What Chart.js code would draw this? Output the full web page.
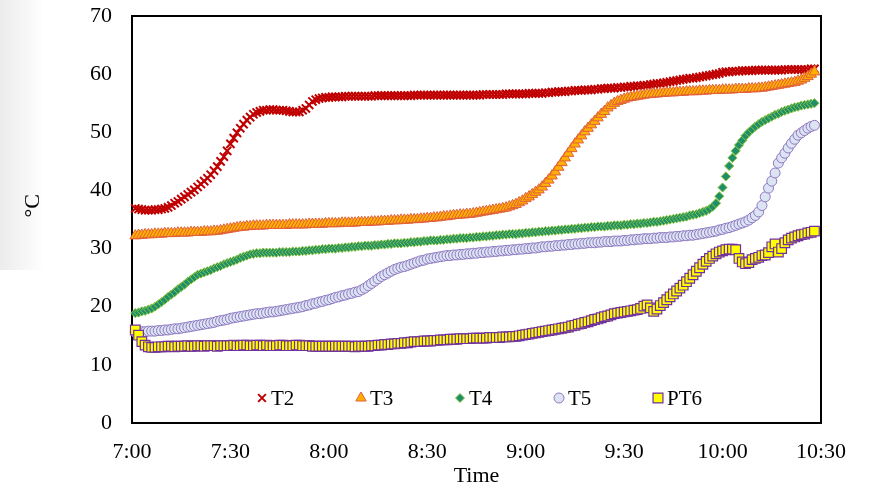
<!DOCTYPE html>
<html><head><meta charset="utf-8">
<script src="https://cdn.jsdelivr.net/npm/chart.js@4.4.1/dist/chart.umd.min.js"></script>
<style>
html,body{margin:0;padding:0;background:#fff;}
#wrap{position:relative;width:879px;height:489px;overflow:hidden;}
#shade{position:absolute;left:0;top:0;width:44px;height:270px;background:linear-gradient(to right, rgba(228,228,228,0.7), rgba(240,240,240,0.5) 65%, rgba(255,255,255,0));}
canvas{position:absolute;left:0;top:0;}
</style></head>
<body><div id="wrap"><div id="shade"></div><canvas id="c" width="879" height="489"></canvas></div>
<script>
// minutes after 7:00 of the first reading; readings every minute
const startMinute = 1;
const seriesNames = ['T2', 'T3', 'T4', 'T5', 'PT6'];
const timeTicks = ['7:00', '7:30', '8:00', '8:30', '9:00', '9:30', '10:00', '10:30'];
const yTicks = [0, 10, 20, 30, 40, 50, 60, 70];

const T2 = [
36.9,36.8,36.7,36.6,36.6,36.6,36.7,36.7,36.8,36.9,
37.1,37.4,37.8,38.1,38.5,38.9,39.3,39.7,40.1,40.6,
41.1,41.6,42.1,42.7,43.4,44.1,45.0,45.8,46.8,48.0,
49.0,49.9,50.7,51.4,52.1,52.6,53.1,53.4,53.6,53.8,
53.8,53.9,53.9,53.8,53.8,53.8,53.7,53.6,53.5,53.5,
53.5,53.8,54.1,54.7,55.3,55.6,55.8,55.9,56.0,56.0,
56.1,56.1,56.1,56.1,56.2,56.2,56.2,56.2,56.2,56.2,
56.2,56.2,56.2,56.3,56.3,56.3,56.3,56.3,56.3,56.3,
56.3,56.3,56.3,56.3,56.3,56.4,56.4,56.4,56.4,56.4,
56.4,56.4,56.4,56.4,56.4,56.4,56.4,56.4,56.4,56.4,
56.4,56.4,56.4,56.4,56.4,56.4,56.5,56.5,56.5,56.5,
56.5,56.5,56.5,56.6,56.6,56.6,56.6,56.6,56.6,56.6,
56.7,56.7,56.7,56.7,56.7,56.8,56.8,56.9,56.9,57.0,
57.0,57.0,57.1,57.1,57.2,57.2,57.2,57.3,57.3,57.3,
57.4,57.4,57.5,57.5,57.6,57.6,57.6,57.7,57.7,57.8,
57.8,57.9,57.9,58.0,58.0,58.1,58.1,58.2,58.3,58.4,
58.4,58.5,58.6,58.7,58.8,58.9,59.0,59.1,59.2,59.3,
59.3,59.4,59.5,59.6,59.7,59.8,59.9,60.0,60.1,60.3,
60.4,60.4,60.5,60.5,60.5,60.6,60.6,60.6,60.6,60.7,
60.7,60.7,60.7,60.7,60.7,60.7,60.7,60.7,60.8,60.8,
60.8,60.8,60.8,60.8,60.8,60.8,60.9,60.9
];

const T3 = [
32.2,32.3,32.3,32.4,32.4,32.4,32.5,32.5,32.5,32.6,
32.6,32.6,32.6,32.7,32.7,32.7,32.7,32.8,32.8,32.8,
32.8,32.9,32.9,32.9,33.0,33.0,33.1,33.2,33.3,33.4,
33.5,33.6,33.7,33.7,33.8,33.8,33.9,33.9,33.9,33.9,
34.0,34.0,34.0,34.0,34.0,34.0,34.0,34.1,34.1,34.1,
34.1,34.1,34.1,34.2,34.2,34.2,34.2,34.2,34.3,34.3,
34.3,34.3,34.3,34.4,34.4,34.4,34.4,34.4,34.5,34.5,
34.5,34.5,34.6,34.6,34.6,34.7,34.7,34.7,34.8,34.8,
34.8,34.9,34.9,34.9,35.0,35.0,35.0,35.1,35.1,35.2,
35.2,35.3,35.3,35.4,35.5,35.5,35.6,35.7,35.7,35.8,
35.8,35.9,35.9,36.0,36.1,36.2,36.3,36.4,36.5,36.6,
36.7,36.8,36.9,37.0,37.2,37.4,37.6,37.9,38.2,38.6,
38.9,39.3,39.7,40.1,40.6,41.2,41.8,42.5,43.2,44.0,
44.8,45.6,46.4,47.2,48.0,48.7,49.4,50.1,50.7,51.3,
51.9,52.5,53.1,53.6,54.2,54.6,55.0,55.3,55.5,55.7,
55.9,56.0,56.1,56.2,56.3,56.4,56.5,56.5,56.6,56.6,
56.7,56.7,56.8,56.8,56.8,56.9,56.9,56.9,57.0,57.0,
57.0,57.0,57.1,57.1,57.1,57.2,57.2,57.2,57.2,57.3,
57.3,57.3,57.3,57.4,57.4,57.4,57.4,57.5,57.5,57.5,
57.6,57.6,57.7,57.8,57.9,58.0,58.1,58.2,58.3,58.4,
58.5,58.6,58.8,59.0,59.3,59.6,60.0,60.4
];

const T4 = [
18.9,19.0,19.2,19.3,19.5,19.7,20.0,20.4,20.8,21.2,
21.7,22.1,22.5,23.0,23.4,23.8,24.3,24.7,25.1,25.5,
25.7,25.9,26.1,26.3,26.6,26.8,27.0,27.3,27.5,27.7,
27.9,28.1,28.4,28.6,28.8,29.0,29.1,29.2,29.2,29.3,
29.3,29.3,29.3,29.3,29.4,29.4,29.4,29.4,29.5,29.5,
29.5,29.6,29.6,29.7,29.7,29.8,29.8,29.9,29.9,30.0,
30.0,30.0,30.1,30.1,30.2,30.2,30.3,30.3,30.4,30.4,
30.5,30.5,30.5,30.6,30.6,30.7,30.7,30.8,30.8,30.9,
30.9,30.9,31.0,31.0,31.1,31.1,31.2,31.2,31.3,31.3,
31.4,31.4,31.4,31.5,31.5,31.6,31.6,31.7,31.7,31.8,
31.8,31.8,31.9,31.9,32.0,32.0,32.1,32.1,32.2,32.2,
32.3,32.3,32.4,32.4,32.5,32.5,32.5,32.6,32.6,32.7,
32.7,32.8,32.8,32.9,32.9,33.0,33.0,33.1,33.1,33.2,
33.2,33.3,33.3,33.4,33.4,33.5,33.5,33.6,33.6,33.7,
33.7,33.8,33.8,33.8,33.9,33.9,34.0,34.0,34.0,34.1,
34.1,34.2,34.2,34.3,34.3,34.4,34.4,34.5,34.6,34.6,
34.7,34.8,34.9,35.0,35.1,35.2,35.3,35.4,35.5,35.7,
35.8,35.9,36.1,36.3,36.5,36.8,37.2,
37.8,39.0,40.5,42.4,44.2,45.6,46.8,47.8,48.6,49.4,50.0,
50.5,51.0,51.4,51.8,52.1,52.4,52.7,53.0,53.2,53.5,53.7,53.9,
54.1,54.3,54.4,54.6,54.7,54.8,54.9,55.0
];

const T5 = [
15.6,15.6,15.7,15.7,15.8,15.8,15.8,15.9,15.9,16.0,
16.0,16.1,16.2,16.2,16.3,16.4,16.5,16.6,16.7,16.8,
16.9,17.0,17.1,17.2,17.3,17.5,17.6,17.7,17.8,18.0,
18.1,18.2,18.3,18.4,18.5,18.6,18.7,18.8,18.8,18.9,
19.0,19.1,19.1,19.2,19.3,19.4,19.5,19.6,19.7,19.8,
19.9,20.0,20.2,20.3,20.5,20.6,20.8,20.9,21.1,21.2,
21.4,21.6,21.7,21.9,22.0,22.2,22.3,22.5,22.6,22.9,
23.2,23.6,24.0,24.4,24.8,25.2,25.5,25.8,26.1,26.4,
26.6,26.8,26.9,27.1,27.3,27.5,27.7,27.9,28.0,28.2,
28.3,28.4,28.5,28.6,28.7,28.8,28.8,28.9,28.9,29.0,
29.0,29.1,29.1,29.2,29.2,29.3,29.3,29.4,29.4,29.5,
29.5,29.6,29.6,29.7,29.7,29.8,29.8,29.9,29.9,30.0,
30.0,30.1,30.1,30.2,30.3,30.3,30.4,30.4,30.5,30.5,
30.6,30.6,30.7,30.7,30.8,30.8,30.9,30.9,31.0,31.0,
31.0,31.1,31.1,31.2,31.2,31.2,31.3,31.3,31.3,31.4,
31.4,31.5,31.5,31.6,31.6,31.7,31.7,31.7,31.8,31.8,
31.9,31.9,31.9,32.0,32.0,32.1,32.1,32.2,32.2,32.3,
32.3,32.4,32.5,32.6,32.7,32.8,32.9,33.0,33.2,33.3,
33.5,33.6,33.8,34.0,34.2,34.4,34.6,34.9,35.3,35.7,
36.3,37.4,38.9,40.4,41.6,43.0,44.7,45.6,46.4,47.3,
48.1,48.8,49.5,49.9,50.3,50.7,51.0,51.2
];

const PT6 = [
16.0,15.1,14.0,13.4,13.1,13.0,13.0,13.1,13.1,13.1,
13.2,13.2,13.1,13.2,13.2,13.2,13.3,13.2,13.2,13.3,
13.3,13.2,13.3,13.3,13.3,13.2,13.3,13.3,13.3,13.3,
13.4,13.3,13.3,13.4,13.4,13.3,13.3,13.4,13.4,13.3,
13.4,13.3,13.3,13.3,13.4,13.4,13.3,13.3,13.3,13.4,
13.4,13.3,13.3,13.3,13.2,13.2,13.2,13.2,13.2,13.2,
13.2,13.2,13.2,13.2,13.2,13.2,13.2,13.1,13.2,13.2,
13.2,13.2,13.3,13.3,13.4,13.4,13.5,13.5,13.6,13.6,
13.7,13.7,13.8,13.8,13.9,14.0,14.0,14.0,14.1,14.1,
14.1,14.2,14.2,14.3,14.3,14.3,14.4,14.4,14.4,14.5,
14.5,14.5,14.5,14.6,14.6,14.6,14.6,14.6,14.7,14.7,
14.7,14.7,14.8,14.8,14.8,14.9,14.9,15.0,15.1,15.2,
15.3,15.4,15.5,15.6,15.7,15.8,15.9,16.0,16.1,16.2,
16.3,16.4,16.5,16.7,16.8,17.0,17.1,17.3,17.4,17.6,
17.8,17.9,18.1,18.3,18.4,18.6,18.8,18.9,19.0,19.1,
19.2,19.3,19.4,19.5,19.7,20.1,20.3,19.8,19.2,19.6,
20.2,20.7,21.2,21.7,22.2,22.7,23.2,23.7,24.3,24.9,
25.5,26.1,26.7,27.3,27.8,28.3,28.7,29.1,29.4,29.6,
29.8,29.9,29.9,29.8,28.3,27.7,27.4,27.6,28.1,28.3,
28.5,28.8,28.9,29.3,30.3,30.8,29.4,30.0,31.0,31.5,
31.8,32.0,32.2,32.4,32.5,32.7,32.8,33.0
];

const seriesValues = [T2, T3, T4, T5, PT6];

const styles = [
  {pointStyle: 'crossRot', radius: 5.8, bg: '#C00000', border: '#C00000', bw: 2,   lr: 5.5, lbw: 2},
  {pointStyle: 'triangle', radius: 6.2, bg: '#FFB000', border: '#E0603A', bw: 1,   lr: 6,   lbw: 1},
  {pointStyle: 'rectRot',  radius: 4.6, bg: '#1F8F68', border: '#8DC63F', bw: 1,   lr: 4.5, lbw: 1},
  {pointStyle: 'circle',   radius: 5,   bg: '#DCE3F3', border: '#8E78C0', bw: 1,   lr: 5,   lbw: 1},
  {pointStyle: 'rect',     radius: 6.8, bg: '#FFFF00', border: '#7030A0', bw: 1.2, lr: 7,   lbw: 1.2}
];

const FONT = "'Liberation Serif', 'Times New Roman', serif";

const datasets = seriesNames.map((name, i) => ({
  label: name,
  data: seriesValues[i].map((v, k) => ({x: startMinute + k, y: v})),
  showLine: false,
  pointStyle: styles[i].pointStyle,
  pointRadius: styles[i].radius,
  pointBackgroundColor: styles[i].bg,
  pointBorderColor: styles[i].border,
  pointBorderWidth: styles[i].bw,
  pointHoverRadius: styles[i].radius,
  backgroundColor: styles[i].bg,
  borderColor: styles[i].border,
  order: seriesNames.length - i,
  clip: false
}));

const framePlugin = {
  id: 'frame',
  beforeDatasetsDraw(chart) {
    const {ctx, chartArea: a} = chart;
    ctx.save();
    ctx.strokeStyle = '#000';
    ctx.lineWidth = 2;
    ctx.strokeRect(a.left, a.top, a.right - a.left, a.bottom - a.top);
    ctx.restore();
  }
};

function drawMarker(ctx, st, x, y) {
  ctx.save();
  ctx.fillStyle = st.bg;
  ctx.strokeStyle = st.border;
  ctx.lineWidth = st.lbw;
  Chart.helpers.drawPoint(ctx, {pointStyle: st.pointStyle, radius: st.lr, rotation: 0, borderWidth: st.lbw}, x, y);
  ctx.restore();
}

const legendPlugin = {
  id: 'innerLegend',
  afterDatasetsDraw(chart) {
    const {ctx, chartArea: a} = chart;
    const y = a.bottom - 25;
    const x0 = a.left + 130;
    const step = 99;
    ctx.save();
    ctx.font = "21px " + FONT;
    ctx.fillStyle = '#000';
    ctx.textBaseline = 'middle';
    ctx.textAlign = 'left';
    seriesNames.forEach((name, i) => {
      const mx = x0 + i * step;
      drawMarker(ctx, styles[i], mx, y);
      ctx.fillStyle = '#000';
      ctx.fillText(name, mx + 9, y + 1);
    });
    ctx.restore();
  }
};

new Chart(document.getElementById('c'), {
  type: 'scatter',
  data: {datasets},
  options: {
    responsive: false,
    animation: false,
    layout: {padding: {top: 0, right: 58, bottom: 0, left: 0}},
    plugins: {legend: {display: false}, tooltip: {enabled: false}},
    scales: {
      x: {
        type: 'linear', min: 0, max: 210,
        grid: {display: false, drawTicks: false},
        border: {display: false},
        ticks: {
          stepSize: 30, padding: 16, maxRotation: 0, autoSkip: false,
          color: '#000', font: {family: FONT, size: 22},
          callback: (v) => timeTicks[Math.round(v / 30)]
        },
        title: {display: true, text: 'Time', color: '#000', font: {family: FONT, size: 22}, padding: {top: 0, bottom: 0}},
        afterFit: (s) => { s.height = 66; }
      },
      y: {
        min: 0, max: 70,
        grid: {display: false, drawTicks: false},
        border: {display: false},
        afterBuildTicks: (s) => { s.ticks = yTicks.map(v => ({value: v})); },
        ticks: {padding: 20, color: '#000', font: {family: FONT, size: 22}},
        title: {display: true, text: '\u00a0\u00a0\u00a0\u00a0\u00a0°C', color: '#000', font: {family: FONT, size: 22}, padding: {top: 20, bottom: 0}},
        afterFit: (s) => { s.width = 132; s.paddingTop = 16; s.paddingBottom = 0; }
      }
    }
  },
  plugins: [framePlugin, legendPlugin]
});
</script>
</body></html>
